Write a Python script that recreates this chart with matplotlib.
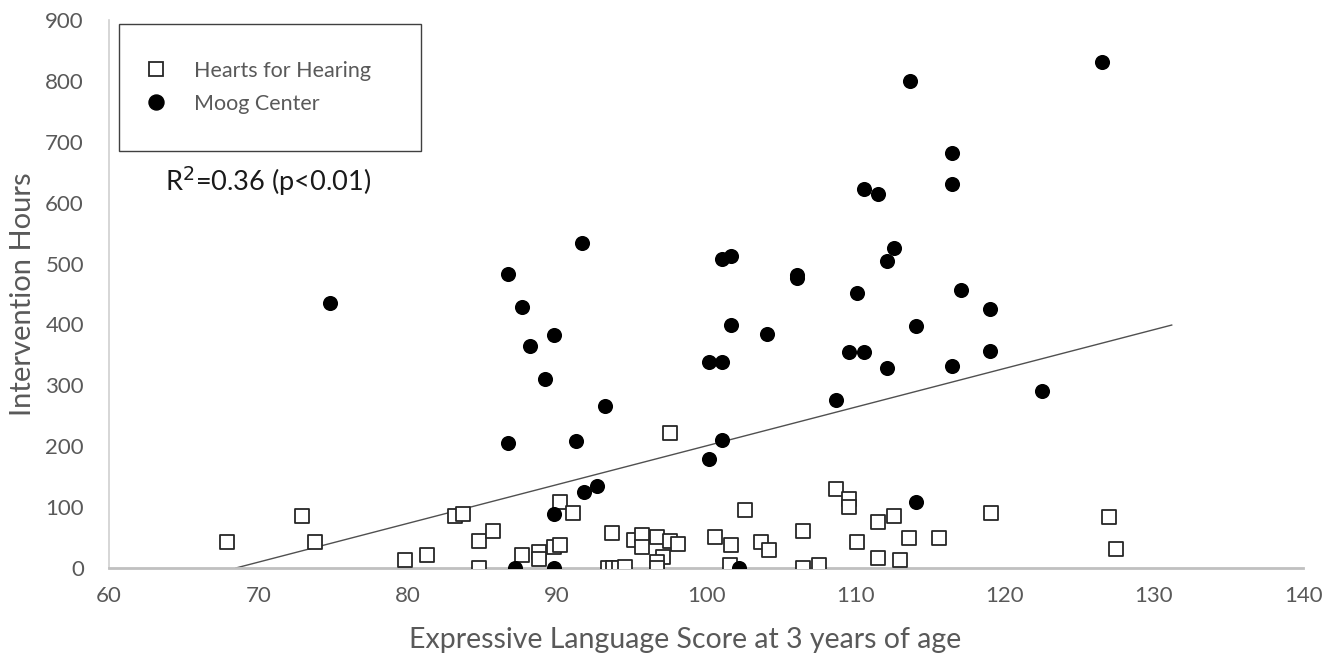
import matplotlib.pyplot as plt
from matplotlib.patches import Rectangle
from matplotlib.lines import Line2D

plt.rcParams['font.family'] = ['Lato', 'DejaVu Sans']

# Hearts for Hearing (open squares)
hfh_score = [67.9, 72.9, 73.8, 79.8, 81.3, 83.2, 83.7, 84.8, 85.7, 84.8,
             90.2, 91.1, 87.7, 88.8, 88.8, 89.8, 90.2,
             93.4, 93.8, 94.2, 94.6, 93.7, 95.2, 95.7, 95.7, 96.7, 97.6,
             98.1, 97.1, 96.7, 96.7, 97.6, 100.6, 101.7, 101.6, 102.6, 103.7,
             104.2, 106.5, 106.5, 107.6, 108.7, 109.6, 109.6, 110.1, 111.5,
             112.6, 111.5, 113.0, 113.6, 115.6,
             119.1, 127.0, 127.5]
hfh_hours = [42, 85, 42, 13, 22, 85, 88, 45, 60, 0,
             108, 91, 22, 27, 15, 35, 37,
             0, 0, 0, 2, 57, 46, 54, 35, 51, 45,
             39, 18, 10, 0, 222, 51, 37, 5, 96, 42,
             29, 60, 0, 5, 129, 114, 100, 42, 76,
             85, 17, 13, 49, 49,
             91, 83, 31]

# Moog Center (filled circles)
moog_score = [74.8, 86.75, 91.7, 87.7, 89.8, 88.2, 89.2, 93.2,
              101.1, 101.7, 106.1, 106.1, 112.6, 112.1, 110.1, 117.1, 119.0,
              101.7, 104.1, 100.2, 101.1, 109.6, 110.6, 114.1, 119.0, 112.1,
              116.5, 122.5, 108.7,
              126.5, 113.65, 116.5, 116.5, 110.6, 111.5,
              101.1, 100.2, 91.8, 92.7, 114.1, 102.2, 86.75, 91.3, 89.8,
              87.2, 89.8]
moog_hours = [435, 483, 534, 428, 383, 365, 311, 266,
              508, 512, 482, 476, 525, 505, 451, 456, 425,
              399, 385, 339, 339, 354, 354, 397, 357, 328,
              331, 291, 276,
              831, 800, 682, 630, 622, 614,
              210, 179, 124, 134, 108, 0, 206, 208, 88,
              0, 0]

# regression line end points
trend_x = [68.5, 131.2]
trend_y = [0, 399]

x_ticks = [60, 70, 80, 90, 100, 110, 120, 130, 140]
y_ticks = [0, 100, 200, 300, 400, 500, 600, 700, 800, 900]

grey = '#595959'

fig = plt.figure(figsize=(13.26, 6.6), dpi=100)
ax = fig.add_axes([0.0822, 0.1394, 0.9005, 0.8303])

ax.plot(trend_x, trend_y, color='#505050', linewidth=1.0, zorder=2)
ax.scatter(hfh_score, hfh_hours, marker='s', s=92, facecolor='white',
           edgecolor='#262626', linewidth=1.3, zorder=3)
ax.scatter(moog_score, moog_hours, marker='o', s=118, color='black',
           linewidth=0, zorder=4)

ax.set_xlim(60, 140)
ax.set_ylim(0, 900)
ax.set_xticks(x_ticks)
ax.set_yticks(y_ticks)
ax.tick_params(length=0, labelsize=16, labelcolor=grey)
ax.tick_params(axis='y', pad=18)
ax.tick_params(axis='x', pad=13)

for side in ['top', 'right']:
    ax.spines[side].set_visible(False)
ax.spines['left'].set_color('#d0d0d0')
ax.spines['left'].set_linewidth(1.2)
ax.spines['bottom'].set_color('#c0c0c0')
ax.spines['bottom'].set_linewidth(2)

ax.set_xlabel('Expressive Language Score at 3 years of age', fontsize=20.5,
              color=grey)
ax.xaxis.set_label_coords(0.4825, -0.108)
ax.set_ylabel('Intervention Hours', fontsize=21, color=grey, labelpad=7)

# legend box
fig.patches.append(Rectangle((119 / 1326, 1 - 151 / 660), 302 / 1326, 127 / 660,
                             transform=fig.transFigure, facecolor='white',
                             edgecolor='#404040', linewidth=1.0, zorder=5))
handles = [Line2D([], [], marker='s', linestyle='none', markersize=9.5,
                  markerfacecolor='white', markeredgecolor='#262626',
                  markeredgewidth=1.3),
           Line2D([], [], marker='o', linestyle='none', markersize=10.8,
                  color='black')]
leg = fig.legend(handles, ['Hearts for Hearing', 'Moog Center'],
                 loc='upper left', bbox_to_anchor=(124 / 1326, 1 - 50 / 660),
                 frameon=False, fontsize=15.5, labelcolor=grey,
                 handletextpad=0.75, labelspacing=0.6, borderpad=0)
leg.set_zorder(6)

fig.text(165 / 1326, 1 - 181 / 660, 'R$^2$=0.36 (p<0.01)', fontsize=19.5,
         color='#1a1a1a', va='center', ha='left')

fig.savefig('out.png', dpi=100)
